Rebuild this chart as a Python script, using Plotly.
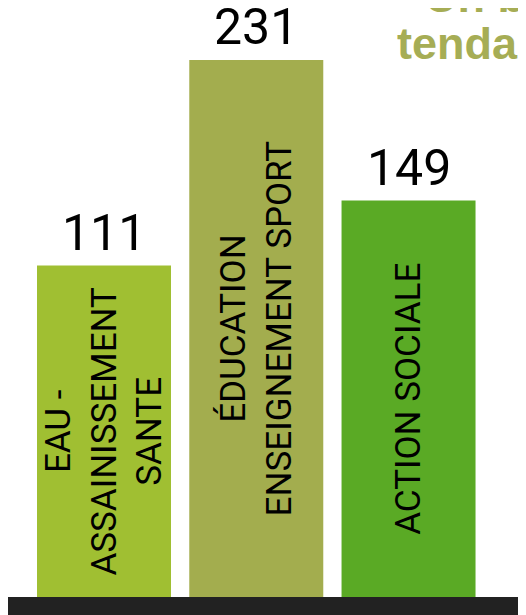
import plotly.graph_objects as go

CATEGORIES = ["EAU - ASSAINISSEMENT SANTE", "ÉDUCATION ENSEIGNEMENT SPORT", "ACTION SOCIALE"]
BAR_LABELS = ["EAU -<br>ASSAINISSEMENT<br>SANTE", "ÉDUCATION<br>ENSEIGNEMENT SPORT", "ACTION SOCIALE"]
VALUES = [111, 231, 149]
COLORS = ["#a0bf32", "#a3ad4e", "#5aaa25"]
TITLE_LINES = ["Un bon", "tendance"]

# the bars sit on a floor below zero, as in the original graphic
FLOOR = -82.5
TOP = 261.4

fig = go.Figure(
    go.Bar(
        x=CATEGORIES,
        y=[v - FLOOR for v in VALUES],
        base=FLOOR,
        width=0.88,
        marker={"color": COLORS, "line": {"width": 0}},
        text=BAR_LABELS,
        textposition="inside",
        insidetextanchor="middle",
        textangle=-90,
        textfont={"family": "Roboto", "size": 35, "color": "#000000"},
        hoverinfo="skip",
    )
)

for cat, v in zip(CATEGORIES, VALUES):
    fig.add_annotation(
        x=cat, y=v, text=str(v), showarrow=False,
        yanchor="bottom", yshift=2,
        font={"family": "Roboto", "size": 50, "color": "#000000"},
    )

title_font = {"family": "Liberation Sans", "size": 45, "color": "#a6ad55"}
fig.add_annotation(
    xref="paper", yref="paper", x=0.789, y=1.019, text="<b>" + TITLE_LINES[0] + "</b>",
    showarrow=False, xanchor="left", yanchor="middle", font=title_font,
)
fig.add_annotation(
    xref="paper", yref="paper", x=0.736, y=0.939, text="<b>" + TITLE_LINES[1] + "</b>",
    showarrow=False, xanchor="left", yanchor="middle", font=title_font,
)

fig.add_shape(
    type="rect", xref="paper", yref="paper", x0=-0.1, x1=1.1, y0=-0.1, y1=0,
    fillcolor="#222222", line={"width": 0}, layer="above",
)

fig.update_layout(
    width=526,
    height=615,
    margin={"l": 0, "r": 0, "t": 0, "b": 26},
    paper_bgcolor="#ffffff",
    plot_bgcolor="#ffffff",
    showlegend=False,
    uniformtext={"minsize": 35, "mode": "show"},
    xaxis={"type": "category", "range": [-0.6305, 2.824], "visible": False},
    yaxis={"range": [FLOOR, TOP], "visible": False},
)

fig.write_html("out.html", config={"displayModeBar": False})
